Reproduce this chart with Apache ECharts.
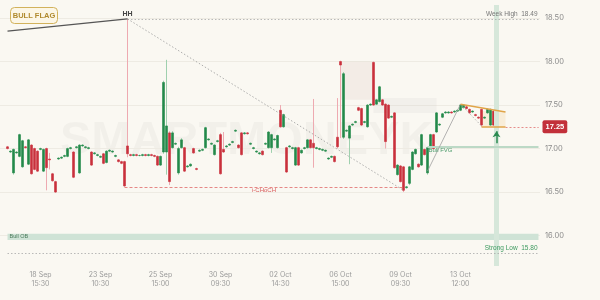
<!DOCTYPE html>
<html><head><meta charset="utf-8">
<script src="https://cdn.jsdelivr.net/npm/echarts@6/dist/echarts.min.js"></script>
<style>html,body{margin:0;padding:0;background:#faf8f2}#c{width:600px;height:300px}</style>
</head><body><div id="c"></div>
<script>
// x tick labels (every 20 bars starting at bar 13)
const tickLabels = ['18 Sep\n15:30','23 Sep\n10:30','25 Sep\n15:00','30 Sep\n09:30','02 Oct\n14:30','06 Oct\n15:00','09 Oct\n09:30','13 Oct\n12:00'];
const tickStart = 13, tickStep = 20, totalBars = 180;
const yTicks = [16, 16.5, 17, 17.5, 18, 18.5];
// candles: [open, close, low, high]
const candles = [
'-','-',
[17.02,17.00,16.99,17.03],[16.96,16.97,16.95,16.98],[16.72,16.99,16.70,17.00],[16.95,16.96,16.94,16.97],
[16.91,17.16,16.90,17.17],[16.79,17.09,16.78,17.10],[17.02,17.01,17.00,17.03],[16.82,17.10,16.81,17.11],
[17.04,16.71,16.70,17.05],[17.00,16.76,16.75,17.01],[16.97,16.74,16.73,16.98],[16.99,17.00,16.98,17.01],
[16.74,16.99,16.73,17.00],[17.00,16.78,16.52,17.01],[16.88,16.87,16.76,16.95],[16.71,16.63,16.62,16.72],
[16.62,16.50,16.49,16.63],[16.88,16.89,16.87,16.90],[16.89,16.90,16.88,16.91],[16.91,16.92,16.90,16.93],
[16.91,17.00,16.90,17.01],[17.00,17.01,16.99,17.02],[16.96,16.67,16.66,16.97],[17.01,17.02,17.00,17.03],
[16.72,17.04,16.71,17.05],[17.03,17.04,17.02,17.05],[17.01,17.02,17.00,17.03],[17.00,17.01,16.99,17.02],
[16.96,16.81,16.80,16.97],[16.94,16.95,16.93,16.96],[16.92,16.93,16.91,16.94],[16.90,16.91,16.89,16.92],
[16.94,16.83,16.82,16.95],[16.84,16.97,16.83,16.98],[16.97,16.98,16.96,16.99],[16.96,16.97,16.95,16.98],
[16.91,16.92,16.90,16.93],[16.87,16.85,16.84,16.88],[16.85,16.83,16.82,16.86],[16.85,16.57,16.56,16.86],
[17.03,16.94,16.90,18.49],[16.93,16.92,16.91,16.94],[16.92,16.93,16.91,16.94],[16.93,16.92,16.91,16.94],
[16.92,16.92,16.91,16.93],[16.92,16.93,16.91,16.94],[16.93,16.92,16.91,16.94],[16.92,16.93,16.91,16.94],
[16.93,16.92,16.91,16.94],[16.92,16.91,16.90,16.93],[16.91,16.81,16.80,16.92],[16.81,16.91,16.80,16.92],
[16.96,17.76,16.94,17.78],[16.96,17.26,16.70,18.02],[17.18,16.62,16.58,17.20],[17.01,17.18,17.00,17.20],
[17.05,17.06,17.04,17.07],[16.72,17.00,16.70,17.02],[17.01,17.10,17.00,17.12],[17.01,16.74,16.73,17.02],
[16.79,16.80,16.78,16.81],[16.80,16.82,16.79,16.83],[17.00,16.95,16.94,17.01],[16.77,16.76,16.75,16.78],
[16.97,16.98,16.96,16.99],[16.98,16.99,16.97,17.00],[17.01,17.24,17.00,17.25],[17.10,17.11,17.09,17.12],
[17.05,17.06,17.04,17.07],[16.93,17.04,16.92,17.05],[17.08,17.09,17.07,17.10],[17.16,16.71,16.70,17.18],
[16.99,16.96,16.95,17.19],[17.02,17.03,17.01,17.04],[17.04,17.05,17.03,17.06],[17.07,17.08,17.06,17.09],
[17.20,17.21,17.19,17.22],[17.04,17.01,17.00,17.05],[17.18,16.93,16.92,17.19],[17.17,17.18,17.16,17.19],
[17.18,17.17,17.16,17.19],[17.05,17.06,17.04,17.07],[17.00,17.01,16.99,17.02],[16.96,16.97,16.95,16.98],
[16.94,16.95,16.93,16.96],[16.97,16.93,16.92,16.98],[17.05,17.06,17.04,17.07],[17.01,17.19,17.00,17.20],
[17.01,17.16,16.95,17.17],[17.10,17.11,17.09,17.12],[17.01,17.15,17.00,17.16],[17.44,17.25,17.24,17.50],
[17.25,17.39,17.24,17.40],[17.01,16.73,16.72,17.02],[17.02,17.03,17.01,17.04],[17.00,17.01,16.99,17.02],
[16.81,17.01,16.80,17.02],[17.01,16.81,16.80,17.02],[16.95,16.98,16.94,16.99],[17.00,17.01,16.99,17.02],
[17.01,17.10,17.00,17.11],[17.10,17.01,17.00,17.11],[17.06,17.01,16.78,17.57],[17.00,17.01,16.99,17.02],
[16.99,17.00,16.98,17.01],[16.98,16.99,16.97,17.00],[16.97,16.98,16.96,16.99],[16.88,16.89,16.87,16.90],
[16.90,16.91,16.89,16.92],[16.91,16.85,16.84,16.92],[17.13,17.02,17.00,17.58],[18.00,17.96,17.12,18.01],
[17.13,17.86,17.11,17.88],[17.20,17.21,17.19,17.22],[17.12,17.26,16.82,17.27],[17.27,17.28,17.26,17.29],
[17.30,17.31,17.29,17.32],[17.47,17.44,17.43,17.48],[17.46,17.27,17.26,17.47],[17.30,17.31,17.29,17.32],
[17.25,17.50,17.24,17.51],[17.50,17.51,17.49,17.52],[17.99,17.50,17.49,18.00],[17.51,17.56,17.50,17.57],
[17.54,17.71,17.53,17.72],[17.56,17.50,17.49,17.57],[17.51,17.08,17.00,17.52],[17.50,17.35,17.34,17.51],
[17.36,17.37,17.35,17.38],[17.41,16.78,16.77,17.42],[16.70,16.81,16.69,16.82],[16.80,16.62,16.61,16.81],
[16.79,16.52,16.50,16.80],[16.55,16.56,16.54,16.57],[16.60,16.79,16.58,16.80],[16.76,16.96,16.75,16.97],
[16.94,16.99,16.93,17.00],[16.82,16.79,16.78,16.83],[16.81,17.16,16.80,17.17],[16.99,16.93,16.92,17.00],
[16.72,17.01,16.70,17.02],[17.03,17.16,17.02,17.17],[17.16,17.00,16.99,17.17],[17.19,17.41,17.18,17.42],
[17.27,17.28,17.26,17.29],[17.36,17.40,17.35,17.41],[17.41,17.42,17.40,17.43],[17.41,17.42,17.40,17.43],
[17.42,17.41,17.40,17.43],[17.42,17.43,17.41,17.44],[17.43,17.44,17.42,17.45],[17.44,17.50,17.43,17.51],
[17.47,17.50,17.46,17.51],[17.48,17.46,17.45,17.49],[17.45,17.41,17.40,17.46],[17.42,17.43,17.41,17.44],
[17.39,17.38,17.37,17.40],[17.36,17.35,17.34,17.37],[17.45,17.27,17.25,17.46],[17.35,17.36,17.34,17.37],
[17.41,17.45,17.40,17.46],[17.27,17.45,17.26,17.46],[17.43,17.27,17.26,17.44],[17.48,17.25,17.24,17.51]
];
// key levels
const weekHigh = 18.49, strongLow = 15.80, chochLevel = 16.56, lastPrice = 17.25, fvgLevel = 17.02;
const obRange = [15.95, 16.02];
const arrowRange = [17.06, 17.20];
const hhIndex = 42, lowIndex = 134, currentIndex = 165;

const cats = Array.from({length: totalBars}, (_, i) => String(i));
const bodies = candles.map(c => c === '-' ? '-' : [c[0], c[1], Math.min(c[0], c[1]), Math.max(c[0], c[1])]);
const endIdx = totalBars - 1;

const chart = echarts.init(document.getElementById('c'));

chart.setOption({
  backgroundColor: '#faf8f2',
  animation: false,
  grid: {left: 0, right: 60, top: 5, bottom: 34},
  xAxis: {
    type: 'category', data: cats, boundaryGap: true,
    axisLine: {show: false}, axisTick: {show: false}, splitLine: {show: false},
    axisLabel: {
      interval: (i) => i >= tickStart && (i - tickStart) % tickStep === 0,
      formatter: (v, i) => tickLabels[(i - tickStart) / tickStep] || '',
      color: '#9a9a9a', fontSize: 7, lineHeight: 9, margin: 4, fontFamily: 'Inter'
    }
  },
  yAxis: {
    type: 'value', position: 'right', min: 15.65, max: 18.65, scale: true,
    axisLine: {show: false},
    axisTick: {show: false, customValues: yTicks},
    axisLabel: {customValues: yTicks, formatter: v => v.toFixed(2), color: '#8a8a8a', fontSize: 7.5, margin: 5, fontFamily: 'Inter'},
    splitLine: {show: true, lineStyle: {color: '#eeebe3', width: 1}}
  },
  graphic: [
    {type: 'text', left: 60, top: 118, z: 0, silent: true,
     style: {text: 'SMARTMONEYK', font: 'bold 47px "Liberation Sans"', fill: 'rgba(0,0,0,0.03)'}},
    {type: 'rect', shape: {x: 10.5, y: 7.5, width: 47, height: 16, r: 4}, z: 10,
     style: {fill: '#fcf6e6', stroke: '#d2b25c', lineWidth: 1}},
    {type: 'text', x: 34, y: 15.5, z: 11,
     style: {text: 'BULL FLAG', font: 'bold 7.5px "Liberation Sans"', fill: '#b08a2e', align: 'center', verticalAlign: 'middle'}}
  ],
  series: [
    {
      type: 'line', data: [], z: 1, silent: true,
      markArea: {
        silent: true,
        data: [
          [{coord: [2, obRange[1]], itemStyle: {color: '#cfe3d6'}, label: {show: true, position: 'insideLeft', formatter: 'Bull OB', color: '#4a7a5a', fontSize: 5.5, offset: [-3, 0]}}, {coord: [endIdx, obRange[0]]}],
          [{coord: [113, 18.0], itemStyle: {color: 'rgba(215,190,185,0.2)'}}, {coord: [124, 17.56]}],
          [{coord: [124, 17.58], itemStyle: {color: 'rgba(200,195,195,0.15)'}}, {coord: [145, 17.41]}],
          [{coord: [160, 17.43], itemStyle: {color: 'rgba(240,180,90,0.16)'}}, {coord: [168, lastPrice]}]
        ]
      },
      markLine: {
        silent: true, symbol: ['none', 'none'], label: {show: false},
        data: [
          {xAxis: currentIndex, lineStyle: {color: '#d6e7da', width: 5, type: 'solid'}},
          [{coord: [hhIndex, weekHigh], lineStyle: {color: '#a8a8a8', type: [1.5, 2], width: 0.8},
            label: {show: true, position: 'insideEndTop', formatter: 'Week High  ' + weekHigh.toFixed(2), color: '#777', fontSize: 6.5, distance: 1}},
           {coord: [endIdx, weekHigh]}],
          [{coord: [2, strongLow], lineStyle: {color: '#a8a8a8', type: [1.5, 2], width: 0.8},
            label: {show: true, position: 'insideEndTop', formatter: 'Strong Low  ' + strongLow.toFixed(2), color: '#3d9a60', fontSize: 6.5, distance: 1}},
           {coord: [endIdx, strongLow]}],
          [{coord: [hhIndex, weekHigh], lineStyle: {color: '#9a9a9a', type: [1.5, 2], width: 0.8}}, {coord: [lowIndex, 16.52]}],
          [{coord: [41, chochLevel], lineStyle: {color: '#e06a6a', type: [3, 2], width: 0.8},
            label: {show: true, position: 'insideMiddleBottom', formatter: 'i-CHoCH', color: '#d85a5a', fontSize: 6, distance: 1}},
           {coord: [lowIndex, chochLevel]}],
          [{coord: [142, fvgLevel], lineStyle: {color: '#bcd9c6', type: 'solid', width: 2},
            label: {show: true, position: 'insideStartBottom', formatter: 'Bull FVG', color: '#4a9a6a', fontSize: 6, distance: 1}},
           {coord: [endIdx, fvgLevel]}],
          [{coord: [168, lastPrice], lineStyle: {color: '#e07070', type: [2, 2], width: 0.8},
            label: {show: true, position: 'end', formatter: lastPrice.toFixed(2), color: '#fff', backgroundColor: '#c2303a', padding: [3, 3, 2, 3], borderRadius: 2, fontSize: 7.5, fontWeight: 'bold', distance: 4}},
           {coord: [endIdx, lastPrice]}]
        ]
      }
    },
    {
      name: 'wicks', type: 'candlestick', data: candles, z: 3, barWidth: 1, silent: true,
      itemStyle: {color: '#9fd0ae', color0: '#eeaab1', borderColor: '#9fd0ae', borderColor0: '#eeaab1', borderWidth: 1}
    },
    {
      name: 'bodies', type: 'candlestick', data: bodies, z: 4, barWidth: 2, silent: true,
      itemStyle: {color: '#23894a', color0: '#c9303c', borderColor: '#23894a', borderColor0: '#c9303c', borderWidth: 0.6},
      markPoint: {
        symbol: 'circle', symbolSize: 0,
        data: [{coord: [hhIndex, weekHigh], label: {show: true, position: 'top', formatter: 'HH', color: '#444', fontSize: 7, fontWeight: 'bold', distance: 1}}]
      },
      markLine: {
        silent: true, symbol: ['none', 'none'], label: {show: false},
        data: [
          [{coord: [2, 18.35], lineStyle: {color: '#555', width: 1.2, type: 'solid'}}, {coord: [hhIndex, weekHigh]}],
          [{coord: [142, 16.74], lineStyle: {color: '#a0a0a0', width: 0.8, type: 'solid'}}, {coord: [153, 17.51]}],
          [{coord: [153, 17.51], lineStyle: {color: '#a0a0a0', width: 0.8, type: [1.5, 2]}}, {coord: [160, 17.26]}],
          [{coord: [153, 17.51], lineStyle: {color: '#e0a448', width: 1.5, type: 'solid'}}, {coord: [168, 17.42]}],
          [{coord: [160, lastPrice], lineStyle: {color: '#e0a448', width: 1.5, type: 'solid'}}, {coord: [168, lastPrice]}],
          [{coord: [currentIndex, arrowRange[0]], symbol: 'none', lineStyle: {color: '#2a8a50', width: 1.5, type: 'solid'}},
           {coord: [currentIndex, arrowRange[1]], symbol: 'arrow', symbolSize: 6}]
        ]
      }
    }
  ]
});
</script>
</body></html>
